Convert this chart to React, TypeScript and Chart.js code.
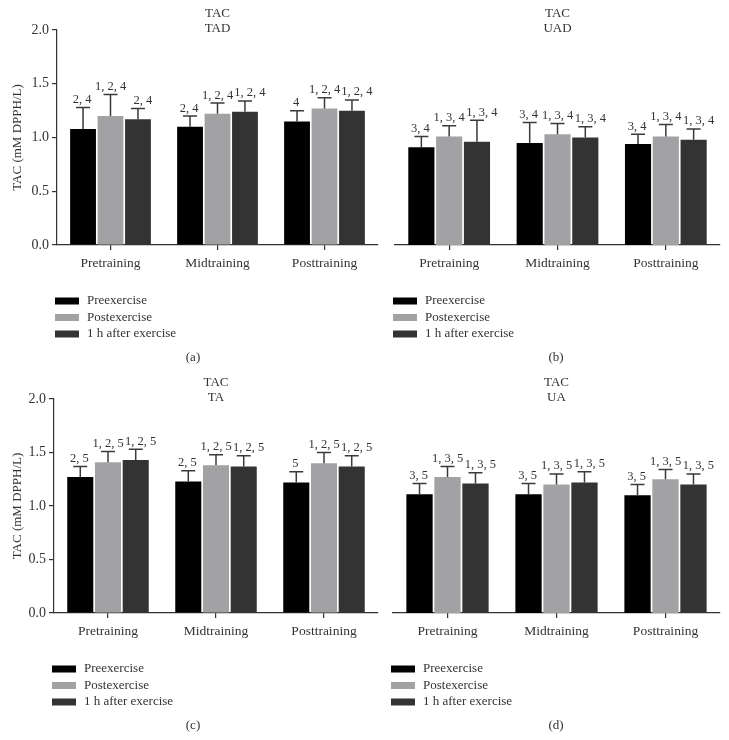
import React, { useEffect, useRef } from "react";
import { Chart, registerables } from "chart.js";

Chart.register(...registerables);

const FONT = '"Liberation Serif", "Times New Roman", serif';
Chart.defaults.font.family = FONT;

const categories = ["Pretraining", "Midtraining", "Posttraining"];
const seriesNames = ["Preexercise", "Postexercise", "1 h after exercise"];
const seriesColors = ["#000000", "#a2a2a5", "#333333"];
const yTicks = [0, 0.5, 1.0, 1.5, 2.0];
const yTitle = "TAC (mM DPPH/L)";

// (a) TAC – TAD
const tadPre = [1.08, 1.1, 1.15];
const tadPost = [1.2, 1.22, 1.27];
const tad1h = [1.17, 1.24, 1.25];
const tadPreErr = [0.2, 0.1, 0.1];
const tadPostErr = [0.2, 0.1, 0.1];
const tad1hErr = [0.1, 0.1, 0.1];
const tadPreSig = ["2, 4", "2, 4", "4"];
const tadPostSig = ["1, 2, 4", "1, 2, 4", "1, 2, 4"];
const tad1hSig = ["2, 4", "1, 2, 4", "1, 2, 4"];

// (b) TAC – UAD
const uadPre = [0.91, 0.95, 0.94];
const uadPost = [1.01, 1.03, 1.01];
const uad1h = [0.96, 1.0, 0.98];
const uadPreErr = [0.1, 0.19, 0.09];
const uadPostErr = [0.1, 0.1, 0.11];
const uad1hErr = [0.2, 0.1, 0.1];
const uadPreSig = ["3, 4", "3, 4", "3, 4"];
const uadPostSig = ["1, 3, 4", "1, 3, 4", "1, 3, 4"];
const uad1hSig = ["1, 3, 4", "1, 3, 4", "1, 3, 4"];

// (c) TAC – TA
const taPre = [1.27, 1.23, 1.22];
const taPost = [1.41, 1.38, 1.4];
const ta1h = [1.43, 1.37, 1.37];
const taPreErr = [0.1, 0.1, 0.1];
const taPostErr = [0.1, 0.1, 0.1];
const ta1hErr = [0.1, 0.1, 0.1];
const taPreSig = ["2, 5", "2, 5", "5"];
const taPostSig = ["1, 2, 5", "1, 2, 5", "1, 2, 5"];
const ta1hSig = ["1, 2, 5", "1, 2, 5", "1, 2, 5"];

// (d) TAC – UA
const uaPre = [1.11, 1.11, 1.1];
const uaPost = [1.27, 1.2, 1.25];
const ua1h = [1.21, 1.22, 1.2];
const uaPreErr = [0.1, 0.1, 0.1];
const uaPostErr = [0.1, 0.1, 0.09];
const ua1hErr = [0.1, 0.1, 0.1];
const uaPreSig = ["3, 5", "3, 5", "3, 5"];
const uaPostSig = ["1, 3, 5", "1, 3, 5", "1, 3, 5"];
const ua1hSig = ["1, 3, 5", "1, 3, 5", "1, 3, 5"];

const TEXT = "#333333";
const LABEL_SHIFT = [-1, 0, 5];

const annotPlugin = {
  id: "annot",
  afterDatasetsDraw(chart: any, _args: any, opts: any) {
    const ctx = chart.ctx;
    const y = chart.scales.y;
    chart.data.datasets.forEach((ds: any, i: number) => {
      const meta = chart.getDatasetMeta(i);
      meta.data.forEach((bar: any, j: number) => {
        const top = y.getPixelForValue(ds.data[j] + opts.errors[i][j]);
        ctx.save();
        ctx.strokeStyle = "#3a3a3a";
        ctx.lineWidth = 1.5;
        ctx.beginPath();
        ctx.moveTo(bar.x, bar.y);
        ctx.lineTo(bar.x, top);
        ctx.moveTo(bar.x - 7, top);
        ctx.lineTo(bar.x + 7, top);
        ctx.stroke();
        ctx.font = `12.5px ${FONT}`;
        ctx.fillStyle = TEXT;
        ctx.textAlign = "center";
        ctx.textBaseline = "bottom";
        ctx.fillText(opts.sigs[i][j], bar.x + LABEL_SHIFT[i], top - 1.5);
        ctx.restore();
      });
    });
  },
  afterDraw(chart: any, _args: any, opts: any) {
    const ctx = chart.ctx;
    const area = chart.chartArea;
    ctx.save();
    ctx.fillStyle = TEXT;
    ctx.textAlign = "center";
    ctx.textBaseline = "middle";
    ctx.font = `13px ${FONT}`;
    const cx = (area.left + area.right) / 2;
    ctx.fillText(opts.title[0], cx, area.top - 16);
    ctx.fillText(opts.title[1], cx, area.top - 1);
    // legend
    const lx = area.left - 2;
    chart.data.datasets.forEach((ds: any, i: number) => {
      const ly = area.bottom + 56 + i * 16.5;
      ctx.fillStyle = ds.backgroundColor;
      ctx.fillRect(lx, ly - 3.5, 24, 7);
      ctx.fillStyle = TEXT;
      ctx.textAlign = "left";
      ctx.font = `13px ${FONT}`;
      ctx.fillText(ds.label, lx + 32, ly);
    });
    ctx.textAlign = "center";
    ctx.font = `13px ${FONT}`;
    ctx.fillText(opts.caption, opts.captionX, area.bottom + 113);
    ctx.restore();
  },
};

type PanelProps = {
  left: number;
  top: number;
  width: number;
  height: number;
  pad: { left: number; right: number; top: number; bottom: number };
  yWidth: number;
  showY: boolean;
  title: string[];
  caption: string;
  captionX: number;
  means: number[][];
  errors: number[][];
  sigs: string[][];
};

function Panel(p: PanelProps) {
  const ref = useRef<HTMLCanvasElement | null>(null);
  useEffect(() => {
    if (!ref.current) return;
    const chart = new Chart(ref.current, {
      type: "bar",
      data: {
        labels: categories,
        datasets: seriesNames.map((n, i) => ({
          label: n,
          data: p.means[i],
          backgroundColor: seriesColors[i],
          borderWidth: 0,
          categoryPercentage: 0.77,
          barPercentage: 0.94,
        })),
      },
      options: {
        animation: false,
        responsive: false,
        maintainAspectRatio: false,
        layout: { padding: p.pad },
        plugins: {
          legend: { display: false },
          tooltip: { enabled: false },
          annot: {
            errors: p.errors,
            sigs: p.sigs,
            title: p.title,
            caption: p.caption,
            captionX: p.captionX,
          },
        } as any,
        scales: {
          x: {
            grid: {
              display: true,
              drawOnChartArea: false,
              drawTicks: true,
              tickLength: 5,
              offset: false,
              color: "#333",
              lineWidth: 1.2,
            },
            border: { display: true, color: "#333", width: 1.2 },
            ticks: { color: TEXT, font: { size: 13.5, family: FONT }, padding: 5 },
            afterFit: (s: any) => {
              s.height = 30;
            },
          },
          y: {
            display: p.showY,
            min: 0,
            max: 2,
            afterBuildTicks: (s: any) => {
              s.ticks = yTicks.map((v) => ({ value: v }));
            },
            ticks: {
              color: TEXT,
              font: { size: 14, family: FONT },
              padding: 3,
              callback: (v: any) => Number(v).toFixed(1),
            },
            grid: {
              display: true,
              drawOnChartArea: false,
              drawTicks: true,
              tickLength: 5,
              color: "#333",
              lineWidth: 1.2,
            },
            border: { display: true, color: "#333", width: 1.2 },
            title: {
              display: true,
              text: yTitle,
              color: TEXT,
              font: { size: 13, family: FONT },
              padding: { top: 10, bottom: 0 },
            },
            afterFit: (s: any) => {
              s.width = p.yWidth;
            },
          },
        },
      } as any,
      plugins: [annotPlugin],
    });
    return () => chart.destroy();
  }, []);
  return (
    <canvas
      ref={ref}
      width={p.width}
      height={p.height}
      style={{ position: "absolute", left: p.left, top: p.top, width: p.width, height: p.height }}
    />
  );
}

export default function App() {
  return (
    <div style={{ position: "absolute", left: 0, top: 0, width: 729, height: 740, background: "#fff" }}>
      <Panel
        left={0}
        top={0}
        width={382}
        height={370}
        pad={{ left: 0, right: 4, top: 30, bottom: 95 }}
        yWidth={57}
        showY={true}
        title={["TAC", "TAD"]}
        caption="(a)"
        captionX={193}
        means={[tadPre, tadPost, tad1h]}
        errors={[tadPreErr, tadPostErr, tad1hErr]}
        sigs={[tadPreSig, tadPostSig, tad1hSig]}
      />
      <Panel
        left={365}
        top={0}
        width={364}
        height={370}
        pad={{ left: 30, right: 9, top: 30, bottom: 95 }}
        yWidth={0}
        showY={false}
        title={["TAC", "UAD"]}
        caption="(b)"
        captionX={191}
        means={[uadPre, uadPost, uad1h]}
        errors={[uadPreErr, uadPostErr, uad1hErr]}
        sigs={[uadPreSig, uadPostSig, uad1hSig]}
      />
      <Panel
        left={0}
        top={370}
        width={382}
        height={370}
        pad={{ left: 0, right: 4, top: 29, bottom: 97 }}
        yWidth={54}
        showY={true}
        title={["TAC", "TA"]}
        caption="(c)"
        captionX={193}
        means={[taPre, taPost, ta1h]}
        errors={[taPreErr, taPostErr, ta1hErr]}
        sigs={[taPreSig, taPostSig, ta1hSig]}
      />
      <Panel
        left={365}
        top={370}
        width={364}
        height={370}
        pad={{ left: 28, right: 9, top: 29, bottom: 97 }}
        yWidth={0}
        showY={false}
        title={["TAC", "UA"]}
        caption="(d)"
        captionX={191}
        means={[uaPre, uaPost, ua1h]}
        errors={[uaPreErr, uaPostErr, ua1hErr]}
        sigs={[uaPreSig, uaPostSig, ua1hSig]}
      />
    </div>
  );
}
